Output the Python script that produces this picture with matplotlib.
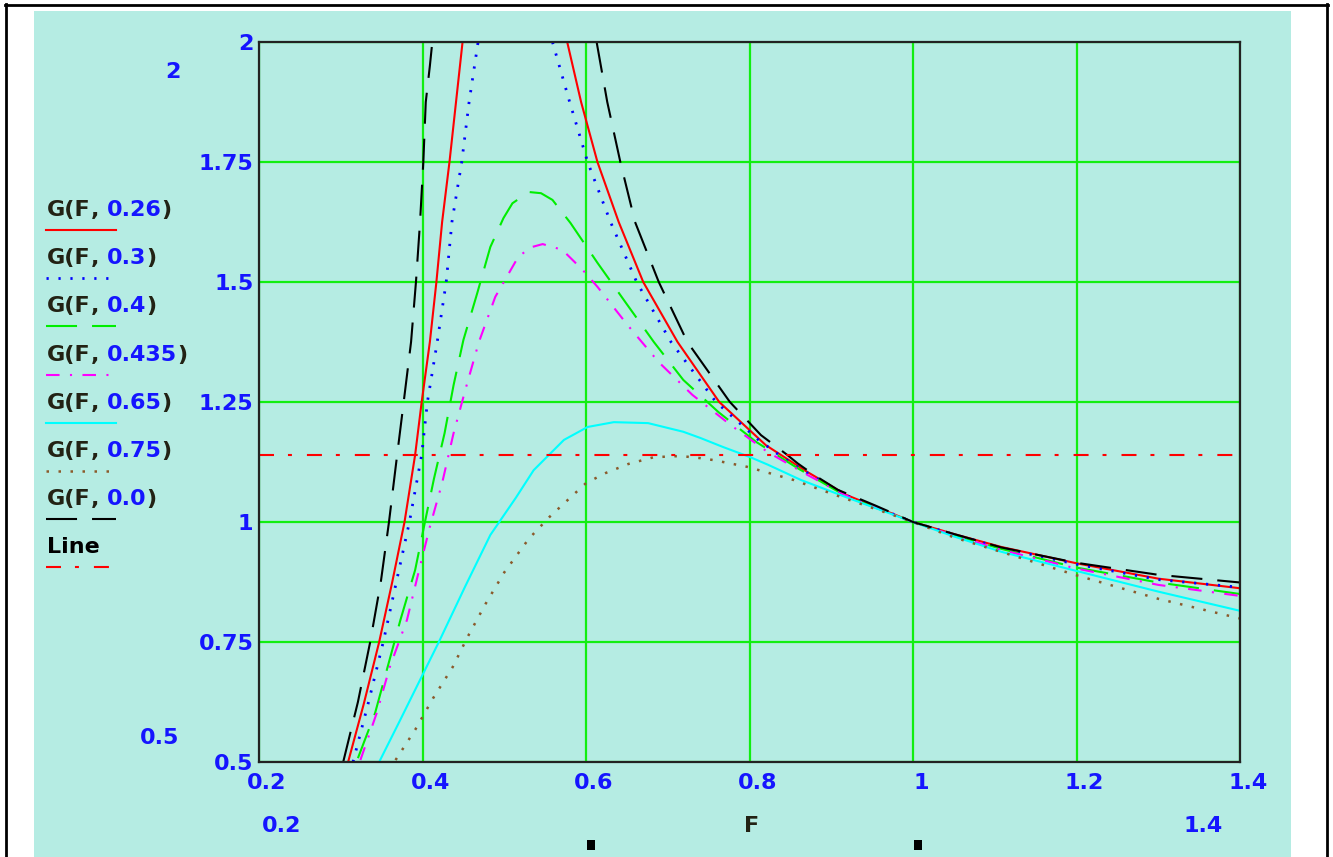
import numpy as np
import matplotlib.pyplot as plt
from matplotlib.lines import Line2D
from matplotlib.patches import Rectangle
from matplotlib.transforms import ScaledTranslation

nan = np.nan

# G(F, 0.26)  - two branches, separated by nan
F_026 = [0.309, 0.328, 0.347, 0.363, 0.378, 0.391, 0.399, 0.409, 0.417, 0.424, 0.433, 0.441, 0.449, nan,
         0.577, 0.594, 0.614, 0.640, 0.670, 0.712, 0.763, 0.820, 0.870, 0.919, 1.0, 1.05, 1.108, 1.2, 1.3, 1.4]
G_026 = [0.50, 0.62, 0.75, 0.875, 1.0, 1.14, 1.25, 1.375, 1.5, 1.625, 1.75, 1.875, 2.0, nan,
         2.0, 1.875, 1.75, 1.625, 1.5, 1.375, 1.25, 1.16, 1.105, 1.056, 1.0, 0.975, 0.948, 0.914, 0.882, 0.862]

# G(F, 0.3)
F_03 = [0.315, 0.334, 0.352, 0.368, 0.384, 0.399, 0.406, 0.418, 0.429, 0.436, 0.448, 0.457, 0.468, nan,
        0.559, 0.580, 0.602, 0.630, 0.662, 0.704, 0.759, 0.811, 0.840, 0.870, 0.919, 1.0, 1.05, 1.108, 1.2, 1.3, 1.4]
G_03 = [0.5, 0.625, 0.75, 0.875, 1.0, 1.14, 1.25, 1.375, 1.5, 1.625, 1.75, 1.875, 2.0, nan,
        2.0, 1.875, 1.75, 1.625, 1.5, 1.375, 1.25, 1.171, 1.135, 1.103, 1.055, 1.0, 0.974, 0.946, 0.912, 0.880, 0.864]

# G(F, 0.4)
F_04 = [0.321, 0.342, 0.373, 0.391, 0.403, 0.414, 0.427, 0.438, 0.450, 0.467, 0.483, 0.499, 0.510, 0.530,
        0.545, 0.559, 0.581, 0.614, 0.649, 0.683, 0.719, 0.762, 0.808, 0.859, 0.919, 1.0, 1.05, 1.108, 1.2, 1.3, 1.4]
G_04 = [0.508, 0.602, 0.796, 0.90, 1.0, 1.09, 1.185, 1.285, 1.379, 1.477, 1.573, 1.633, 1.664, 1.6875,
        1.685, 1.671, 1.623, 1.54, 1.456, 1.375, 1.296, 1.229, 1.167, 1.112, 1.053, 1.0, 0.973, 0.944, 0.905, 0.874, 0.850]

# G(F, 0.435)
F_0435 = [0.324, 0.344, 0.360, 0.381, 0.395, 0.409, 0.424, 0.438, 0.453, 0.469, 0.489, 0.517, 0.532, 0.547,
          0.571, 0.596, 0.614, 0.651, 0.689, 0.730, 0.777, 0.822, 0.871, 0.924, 1.0, 1.05, 1.108, 1.2, 1.3, 1.4]
G_0435 = [0.504, 0.602, 0.698, 0.796, 0.894, 0.99, 1.081, 1.185, 1.279, 1.375, 1.469, 1.552, 1.572, 1.579,
          1.567, 1.525, 1.49, 1.41, 1.333, 1.265, 1.202, 1.146, 1.098, 1.05, 1.0, 0.972, 0.942, 0.903, 0.869, 0.846]

# G(F, 0.65)
F_065 = [0.347, 0.372, 0.397, 0.420, 0.452, 0.483, 0.514, 0.536, 0.573, 0.602, 0.634, 0.676, 0.719,
         0.740, 0.768, 0.801, 0.823, 0.863, 0.924, 1.0, 1.05, 1.108, 1.2, 1.3, 1.4]
G_065 = [0.5, 0.585, 0.671, 0.75, 0.865, 0.973, 1.05, 1.108, 1.171, 1.198, 1.208, 1.206, 1.188,
         1.175, 1.156, 1.135, 1.119, 1.0875, 1.048, 1.0, 0.970, 0.938, 0.898, 0.855, 0.815]

# G(F, 0.75)
F_075 = [0.367, 0.391, 0.413, 0.437, 0.455, 0.477, 0.500, 0.530, 0.555, 0.579, 0.600, 0.624, 0.652,
         0.683, 0.716, 0.740, 0.756, 0.797, 0.854, 0.912, 1.0, 1.05, 1.132, 1.2, 1.3, 1.4]
G_075 = [0.504, 0.567, 0.633, 0.698, 0.76, 0.829, 0.895, 0.965, 1.01, 1.048, 1.081, 1.102, 1.121,
         1.135, 1.1375, 1.133, 1.129, 1.115, 1.0875, 1.052, 1.0, 0.968, 0.925, 0.889, 0.840, 0.799]

# G(F, 0.0)
F_00 = [0.303, 0.321, 0.336, 0.349, 0.359, 0.369, 0.377, 0.386, 0.392, 0.397, 0.401, 0.404, 0.409, 0.412, nan,
        0.613, 0.626, 0.642, 0.660, 0.689, 0.724, 0.776, 0.814, 0.846, 0.859, 0.879, 0.908, 0.953, 1.0,
        1.05, 1.108, 1.2, 1.3, 1.4]
G_00 = [0.5, 0.625, 0.75, 0.875, 1.0, 1.14, 1.25, 1.375, 1.5, 1.625, 1.75, 1.875, 1.95, 2.0, nan,
        2.0, 1.875, 1.75, 1.625, 1.5, 1.375, 1.25, 1.181, 1.14, 1.122, 1.098, 1.067, 1.035, 1.0,
        0.975, 0.947, 0.915, 0.890, 0.874]

# Line
F_line = [0.2, 1.4]
G_line = [1.14, 1.14]

x_ticks = [0.2, 0.4, 0.6, 0.8, 1.0, 1.2, 1.4]
x_ticklabels = ['0.2', '0.4', '0.6', '0.8', '1', '1.2', '1.4']
y_ticks = [0.5, 0.75, 1.0, 1.25, 1.5, 1.75, 2.0]
y_ticklabels = ['0.5', '0.75', '1', '1.25', '1.5', '1.75', '2']

BG = '#b5ece3'
GRID = '#11ee11'
BLUE = '#1515ff'
DARK = '#222214'
BROWN = '#8b5a2b'

W, H = 1333, 857


def fx(px):
    return px / W


def fy(py):
    return 1 - py / H


fig = plt.figure(figsize=(W / 100, H / 100), dpi=100)
fig.patch.set_facecolor('white')

# panel + frame
fig.add_artist(Rectangle((fx(34), fy(857)), fx(1291) - fx(34), fy(11) - fy(857),
                         transform=fig.transFigure, facecolor=BG, edgecolor='none', zorder=0))
fig.add_artist(Line2D([fx(6), fx(6)], [fy(4), 0], transform=fig.transFigure, color='black', lw=2))
fig.add_artist(Line2D([fx(5), fx(1328)], [fy(5), fy(5)], transform=fig.transFigure, color='black', lw=2))
fig.add_artist(Line2D([fx(1327), fx(1327)], [fy(4), 0], transform=fig.transFigure, color='black', lw=2))

ax = fig.add_axes([fx(259), fy(762), fx(1240) - fx(259), fy(42) - fy(762)])
ax.set_facecolor(BG)
ax.set_xlim(0.2, 1.4)
ax.set_ylim(0.5, 2.0)
ax.set_xticks(x_ticks)
ax.set_xticklabels(x_ticklabels)
ax.set_yticks(y_ticks)
ax.set_yticklabels(y_ticklabels)
ax.grid(True, color=GRID, lw=1.6)
ax.set_axisbelow(True)
ax.tick_params(length=0, labelsize=16, labelcolor=BLUE)
ax.tick_params(axis='x', pad=8)
ax.tick_params(axis='y', pad=4)
for lab in ax.get_xticklabels() + ax.get_yticklabels():
    lab.set_fontweight('bold')
for lab in ax.get_xticklabels():
    lab.set_transform(lab.get_transform() + ScaledTranslation(8 / 100, 0, fig.dpi_scale_trans))
for s in ax.spines.values():
    s.set_color('#222222')
    s.set_linewidth(1.6)

styles = [
    ('0.26', F_026, G_026, 'red', '-', 1.5),
    ('0.3', F_03, G_03, 'blue', (0, (0.8, 3.5)), 2.0),
    ('0.4', F_04, G_04, '#00ee00', (0, (14.9, 7.2)), 1.5),
    ('0.435', F_0435, G_0435, 'magenta', (0, (6.5, 5, 1, 5)), 1.5),
    ('0.65', F_065, G_065, 'cyan', '-', 1.5),
    ('0.75', F_075, G_075, BROWN, (0, (1.0, 3.8)), 1.8),
    ('0.0', F_00, G_00, 'black', (0, (14.9, 7.2)), 1.5),
]
LINE_LS = (0, (7.2, 6.7, 1.9, 7.2))

for q, f, g, c, ls, lw in styles:
    ax.plot(f, g, color=c, ls=ls, lw=lw)
ax.plot(F_line, G_line, color='red', ls=LINE_LS, lw=1.5)

# legend on the left, Mathcad style
fs = 16


def rich_label(px, py, parts):
    prev = fig.text(fx(px), fy(py), parts[0][0], color=parts[0][1], fontsize=fs,
                    fontweight='bold', va='center', ha='left')
    for txt, col in parts[1:]:
        prev = ax.annotate(txt, xy=(1, 0), xycoords=prev, va='bottom', ha='left',
                           color=col, fontsize=fs, fontweight='bold', annotation_clip=False)


for i, (q, f, g, c, ls, lw) in enumerate(styles):
    y = 210 + i * 48.2
    rich_label(47, y, [('G(F', DARK), (', ', DARK), (q, BLUE), (')', DARK)])
    fig.add_artist(Line2D([fx(46), fx(116)], [fy(y + 20)] * 2, transform=fig.transFigure,
                          color=c, ls=ls, lw=lw))
y = 210 + 7 * 48.2
fig.text(fx(47), fy(y), 'Line', color='black', fontsize=fs, fontweight='bold', va='center', ha='left')
fig.add_artist(Line2D([fx(46), fx(116)], [fy(y + 20)] * 2, transform=fig.transFigure,
                      color='red', ls=LINE_LS, lw=1.5))

# extra range labels
fig.text(fx(173), fy(72), '2', color=BLUE, fontsize=fs, fontweight='bold', ha='center', va='center')
fig.text(fx(160), fy(738), '0.5', color=BLUE, fontsize=fs, fontweight='bold', ha='center', va='center')
fig.text(fx(282), fy(826), '0.2', color=BLUE, fontsize=fs, fontweight='bold', ha='center', va='center')
fig.text(fx(752), fy(826), 'F', color=DARK, fontsize=fs, fontweight='bold', ha='center', va='center')
fig.text(fx(1203), fy(826), '1.4', color=BLUE, fontsize=fs, fontweight='bold', ha='center', va='center')
for sx in (587, 914):
    fig.add_artist(Rectangle((fx(sx), fy(850)), 8 / W, 10 / H, transform=fig.transFigure,
                             facecolor='black', edgecolor='none'))

plt.savefig('out.png', dpi=100)
